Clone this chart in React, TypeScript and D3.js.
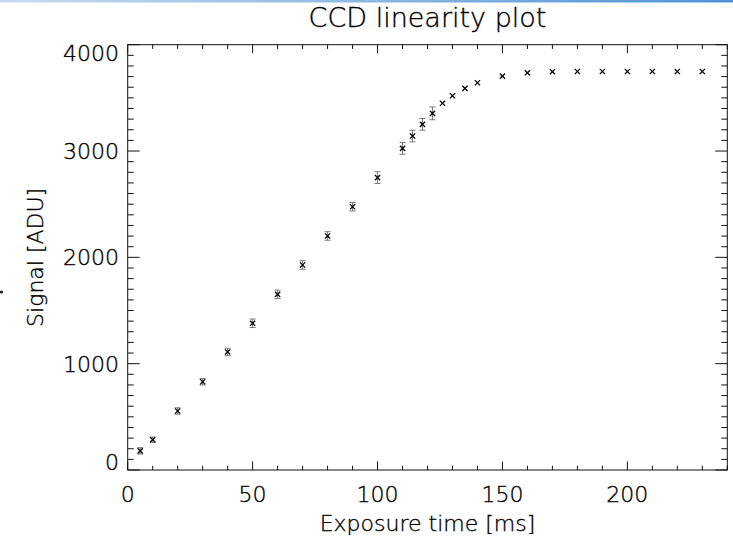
import React from "react";
import * as d3 from "d3";

const exposure = [5, 10, 20, 30, 40, 50, 60, 70, 80, 90, 100, 110, 114, 118, 122, 126, 130, 135, 140, 150, 160, 170, 180, 190, 200, 210, 220, 230];
const signal = [180, 285, 555, 830, 1110, 1380, 1652, 1928, 2201, 2476, 2750, 3025, 3141, 3251, 3354, 3449, 3520, 3589, 3642, 3705, 3736, 3746, 3748, 3748, 3748, 3748, 3748, 3748];
const errors = [30, 25, 30, 30, 35, 40, 40, 40, 40, 40, 55, 55, 55, 55, 60, 0, 0, 0, 0, 0, 0, 0, 0, 0, 0, 0, 0, 0];
const xMajorTicks = [0, 50, 100, 150, 200];
const yMajorTicks = [0, 1000, 2000, 3000, 4000];
const titleText = "CCD linearity plot";
const xLabel = "Exposure time [ms]";
const yLabel = "Signal [ADU]";

const W = 733, H = 539;
const L = 127.7, R = 727.3, T = 44.7, B = 470;
const FONT = "'DejaVu Sans', sans-serif";
const textStyle = { fontFamily: FONT, fontWeight: 200, fill: "#000", stroke: "#000", strokeWidth: 0.35 } as const;

export default function App() {
  const x = d3.scaleLinear().domain([0, 240]).range([L, R]);
  const y = d3.scaleLinear().domain([0, 4000]).range([B, T]);
  const xMinor = d3.range(0, 241, 10);
  const yMinor = d3.range(0, 4001, 100);
  const xMajLen = 8.5, xMinLen = 4.25, yMajLen = 12, yMinLen = 6;
  const ms = 2.6;
  const labelY = (v: number) => Math.min(B - 7.5, Math.max(T + 8, y(v)));
  return (
    <svg width={W} height={H} style={{ position: "fixed", left: 0, top: 0, background: "#fff" }}>
      <defs>
        <linearGradient id="topline" x1="0" x2="1" y1="0" y2="0">
          <stop offset="0" stopColor="#c9dbee" />
          <stop offset="1" stopColor="#4f93d6" />
        </linearGradient>
      </defs>
      <rect x={0} y={0} width={W} height={2.5} fill="url(#topline)" />
      <circle cx={1.5} cy={292} r={1.6} fill="#222" />
      <text x={(L + R) / 2} y={27} textAnchor="middle" fontSize={27} {...textStyle}>{titleText}</text>
      <rect x={L} y={T} width={R - L} height={B - T} fill="none" stroke="#111" strokeWidth={1} />
      {xMinor.map((v) => {
        const major = v % 50 === 0;
        const len = major ? xMajLen : xMinLen;
        return (
          <g key={"xt" + v}>
            <line x1={x(v)} x2={x(v)} y1={B} y2={B - len} stroke="#111" />
            <line x1={x(v)} x2={x(v)} y1={T} y2={T + len} stroke="#111" />
          </g>
        );
      })}
      {yMinor.map((v) => {
        const major = v % 1000 === 0;
        const len = major ? yMajLen : yMinLen;
        return (
          <g key={"yt" + v}>
            <line x1={L} x2={L + len} y1={y(v)} y2={y(v)} stroke="#111" />
            <line x1={R} x2={R - len} y1={y(v)} y2={y(v)} stroke="#111" />
          </g>
        );
      })}
      {xMajorTicks.map((v) => (
        <text key={"xl" + v} x={x(v)} y={502} textAnchor="middle" fontSize={22} {...textStyle}>{v}</text>
      ))}
      {yMajorTicks.map((v) => (
        <text key={"yl" + v} x={119} y={labelY(v)} dy="0.36em" textAnchor="end" fontSize={22} {...textStyle}>{v}</text>
      ))}
      <text x={(L + R) / 2} y={531} textAnchor="middle" fontSize={22} {...textStyle}>{xLabel}</text>
      <text transform={`translate(43,${(T + B) / 2}) rotate(-90)`} textAnchor="middle" fontSize={22} {...textStyle}>{yLabel}</text>
      {exposure.map((v, i) => errors[i] > 0 ? (
        <g key={"e" + i} stroke="#777" strokeWidth={1}>
          <line x1={x(v)} x2={x(v)} y1={y(signal[i] - errors[i])} y2={y(signal[i] + errors[i])} />
          <line x1={x(v) - 3} x2={x(v) + 3} y1={y(signal[i] - errors[i])} y2={y(signal[i] - errors[i])} />
          <line x1={x(v) - 3} x2={x(v) + 3} y1={y(signal[i] + errors[i])} y2={y(signal[i] + errors[i])} />
        </g>
      ) : null)}
      {exposure.map((v, i) => (
        <g key={"m" + i} stroke="#000" strokeWidth={1.3}>
          <line x1={x(v) - ms} x2={x(v) + ms} y1={y(signal[i]) - ms} y2={y(signal[i]) + ms} />
          <line x1={x(v) - ms} x2={x(v) + ms} y1={y(signal[i]) + ms} y2={y(signal[i]) - ms} />
        </g>
      ))}
    </svg>
  );
}
